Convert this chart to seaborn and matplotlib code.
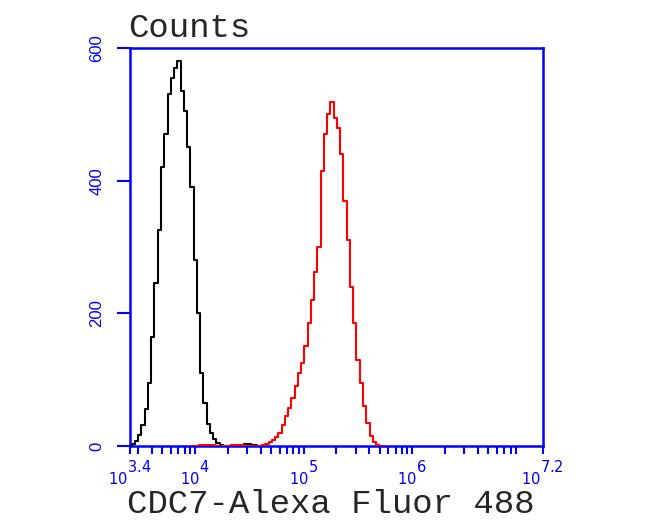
import numpy as np
import seaborn as sns
import matplotlib
matplotlib.use('Agg')
import matplotlib.pyplot as plt
from matplotlib.ticker import FixedLocator, NullFormatter

# Histogram channels (log10 of fluorescence) and counts
black_log = [3.40, 3.43, 3.46, 3.49, 3.52, 3.55, 3.58, 3.61, 3.64, 3.67, 3.70,
             3.73, 3.76, 3.79, 3.82, 3.85, 3.88, 3.91, 3.94, 3.97, 4.00, 4.03,
             4.06, 4.09, 4.12, 4.15, 4.18, 4.21, 4.24, 4.27, 4.30, 4.36, 4.42,
             4.48, 4.54, 4.60]
black_counts = [0, 3, 8, 17, 32, 55, 95, 165, 245, 325, 420,
                470, 530, 555, 570, 580, 535, 505, 450, 390, 280, 200,
                110, 65, 33, 20, 10, 5, 2, 0, 0, 2, 0, 3, 1, 0]

red_log = [3.95, 4.10, 4.25, 4.40, 4.50, 4.60, 4.63, 4.66, 4.69, 4.72, 4.75,
           4.78, 4.81, 4.84, 4.87, 4.90, 4.93, 4.96, 4.99, 5.02, 5.05, 5.08,
           5.11, 5.14, 5.17, 5.20, 5.23, 5.26, 5.29, 5.32, 5.35, 5.38, 5.41,
           5.44, 5.47, 5.50, 5.53, 5.56, 5.59, 5.62, 5.65, 5.68, 5.71, 5.76]
red_counts = [0, 1, 0, 1, 0, 0, 1, 3, 6, 9, 13,
              20, 32, 45, 58, 72, 90, 110, 125, 150, 185, 220,
              262, 300, 415, 470, 500, 518, 495, 480, 440, 370, 311,
              240, 185, 130, 95, 60, 35, 15, 6, 2, 0, 0]

x_tick_exp = [3.4, 4, 5, 6, 7.2]
x_tick_labels = [r'${}_{10}{}^{3.4}$', r'${}_{10}{}^{4}$', r'${}_{10}{}^{5}$',
                 r'${}_{10}{}^{6}$', r'${}_{10}{}^{7.2}$']
y_ticks = [0, 200, 400, 600]

sns.set_style('white')
blue = '#0000ff'

fig = plt.figure(figsize=(6.5, 5.32), dpi=100)
ax = fig.add_axes([0.2, 0.1617, 0.635, 0.7481])

sns.lineplot(x=10 ** np.array(black_log), y=black_counts, ax=ax, color='black',
             linewidth=1.5, drawstyle='steps-mid', sort=False, zorder=3)
sns.lineplot(x=10 ** np.array(red_log), y=red_counts, ax=ax, color='red',
             linewidth=1.5, drawstyle='steps-mid', sort=False, zorder=3)

ax.set_xscale('log')
ax.set_xlim(10 ** 3.4, 10 ** 7.2)
ax.set_ylim(0, 600)

# ticks
ax.xaxis.set_major_locator(FixedLocator([10 ** e for e in x_tick_exp]))
ax.set_xticklabels(x_tick_labels)
minor = [m * 10 ** k for k in range(3, 8) for m in range(2, 10)
         if 10 ** 3.4 < m * 10 ** k < 10 ** 7.2]
ax.xaxis.set_minor_locator(FixedLocator(minor))
ax.xaxis.set_minor_formatter(NullFormatter())
ax.set_yticks(y_ticks)
ax.set_yticklabels([str(v) for v in y_ticks], rotation=90, va='center')

ax.tick_params(axis='x', which='both', direction='out', length=6, width=1.5,
               color=blue, labelcolor=blue, labelsize=15, pad=3, bottom=True)
ax.tick_params(axis='y', which='major', direction='out', length=9.5, width=1.5,
               color=blue, labelcolor=blue, labelsize=12, pad=9, left=True)
for lab in ax.get_yticklabels():
    lab.set_family('Liberation Sans')

for s in ax.spines.values():
    s.set_color(blue)
    s.set_linewidth(1.8)
ax.set_xlabel('')
ax.set_ylabel('')

fig.text(0.197, 0.930, 'Counts', family='Liberation Mono', fontsize=24.5,
         va='baseline', ha='left')
fig.text(0.509, 0.0357, 'CDC7-Alexa Fluor 488', family='Liberation Mono',
         fontsize=24.5, va='baseline', ha='center')

fig.savefig('out.png', dpi=100)
